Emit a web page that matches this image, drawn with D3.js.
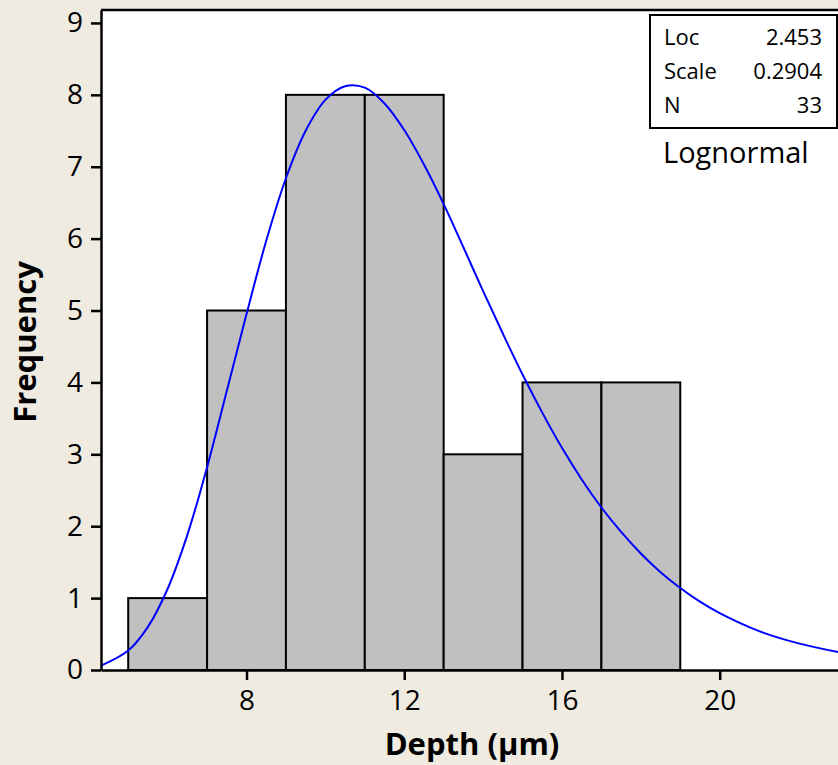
<!DOCTYPE html>
<html>
<head>
<meta charset="utf-8">
<script src="https://cdn.jsdelivr.net/npm/d3@7"></script>
<style>
    body { margin: 0; background: #efebe1; }
    svg { display: block; }
</style>
</head>
<body>
<div id="chart"></div>
<script>
// Histogram bins (Depth, µm) and counts
var binEdges = [5, 7, 9, 11, 13, 15, 17, 19];
var counts = [1, 5, 8, 8, 3, 4, 4];

// Fitted lognormal curve
var curveX = [4.31, 5, 5.5, 6, 6.5, 7, 7.5, 8, 8.5, 9, 9.5, 10, 10.5, 11, 11.5, 12, 12.5, 13, 13.5,
    14, 14.5, 15, 15.5, 16, 16.5, 17, 17.5, 18, 18.5, 19, 19.5, 20, 21, 22, 23];
var curveY = [0.06, 0.27, 0.60, 1.13, 1.88, 2.82, 3.88, 4.95, 5.97, 6.84, 7.50, 7.93, 8.12, 8.10, 7.88,
    7.51, 7.03, 6.48, 5.88, 5.27, 4.68, 4.11, 3.58, 3.09, 2.65, 2.26, 1.92, 1.62, 1.36, 1.14, 0.95,
    0.79, 0.54, 0.37, 0.25];

var xTicks = [8, 12, 16, 20];
var yTicks = [0, 1, 2, 3, 4, 5, 6, 7, 8, 9];

var legendLabels = ["Loc", "Scale", "N"];
var legendValues = ["2.453", "0.2904", "33"];
var distName = "Lognormal";

function init() {
    var width = 838;
    var height = 765;
    var left = 101, right = 838, top = 10, bottom = 670;

    var x = d3.scaleLinear().domain([4.31, 23.0]).range([left, right]);
    var y = d3.scaleLinear().domain([0, 9.18]).range([bottom, top]);

    var svg = d3.select("#chart")
        .append("svg")
        .attr("width", width)
        .attr("height", height)
        .style("font-family", "'Open Sans', 'Noto Sans', sans-serif");

    // Plot area
    svg.append("rect")
        .attr("x", left)
        .attr("y", top)
        .attr("width", right - left)
        .attr("height", bottom - top)
        .attr("fill", "#ffffff");

    // Bars
    svg.selectAll(".bar")
        .data(counts)
        .enter()
        .append("rect")
        .attr("class", "bar")
        .attr("x", function (d, i) { return x(binEdges[i]); })
        .attr("y", function (d) { return y(d); })
        .attr("width", function (d, i) { return x(binEdges[i + 1]) - x(binEdges[i]); })
        .attr("height", function (d) { return y(0) - y(d); })
        .attr("fill", "#c0c0c0")
        .attr("stroke", "#000")
        .attr("stroke-width", 2);

    // Fit curve
    var line = d3.line()
        .x(function (d) { return x(d[0]); })
        .y(function (d) { return y(d[1]); })
        .curve(d3.curveCatmullRom);

    svg.append("path")
        .datum(d3.zip(curveX, curveY))
        .attr("d", line)
        .attr("fill", "none")
        .attr("stroke", "#0000ff")
        .attr("stroke-width", 2);

    // Axes
    var xAxis = svg.append("g")
        .attr("transform", "translate(0," + bottom + ")")
        .call(d3.axisBottom(x).tickValues(xTicks).tickSize(10).tickSizeOuter(0).tickPadding(10));
    var yAxis = svg.append("g")
        .attr("transform", "translate(" + left + ",0)")
        .call(d3.axisLeft(y).tickValues(yTicks).tickSize(10).tickSizeOuter(0).tickPadding(8));

    [xAxis, yAxis].forEach(function (g) {
        g.select(".domain").attr("stroke-width", 2.5);
        g.selectAll(".tick line").attr("stroke-width", 2.5);
        g.selectAll(".tick text")
            .attr("font-family", "'Open Sans', 'Noto Sans', sans-serif")
            .attr("font-size", 28)
            .attr("fill", "#000");
    });

    // Top frame line
    svg.append("line")
        .attr("x1", left).attr("x2", right)
        .attr("y1", top).attr("y2", top)
        .attr("stroke", "#000")
        .attr("stroke-width", 2.5);

    // Axis titles
    svg.append("text")
        .attr("x", 472)
        .attr("y", 755)
        .attr("text-anchor", "middle")
        .attr("font-size", 31)
        .attr("font-weight", "bold")
        .text("Depth (µm)");

    svg.append("text")
        .attr("transform", "translate(36,342) rotate(-90)")
        .attr("text-anchor", "middle")
        .attr("font-size", 31)
        .attr("font-weight", "bold")
        .text("Frequency");

    // Legend box
    var lg = svg.append("g");
    lg.append("rect")
        .attr("x", 650).attr("y", 15)
        .attr("width", 187).attr("height", 113)
        .attr("fill", "#fff")
        .attr("stroke", "#000")
        .attr("stroke-width", 2);

    lg.selectAll(".lab")
        .data(legendLabels)
        .enter()
        .append("text")
        .attr("x", 664)
        .attr("y", function (d, i) { return 45 + i * 34; })
        .attr("font-size", 22)
        .text(function (d) { return d; });

    lg.selectAll(".val")
        .data(legendValues)
        .enter()
        .append("text")
        .attr("x", 822)
        .attr("y", function (d, i) { return 45 + i * 34; })
        .attr("text-anchor", "end")
        .attr("font-size", 22)
        .text(function (d) { return d; });

    svg.append("text")
        .attr("x", 663)
        .attr("y", 163)
        .attr("font-size", 29)
        .text(distName);
}

window.onload = init;
</script>
</body>
</html>
